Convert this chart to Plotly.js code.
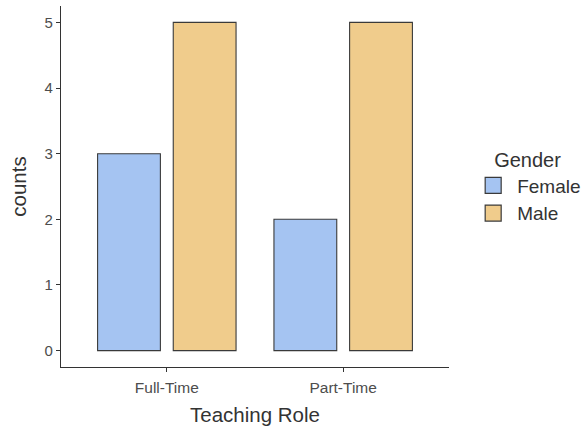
<!DOCTYPE html>
<html><head><meta charset="utf-8">
<script src="https://cdn.plot.ly/plotly-3.0.1.min.js"></script>
<style>body{margin:0;background:#fff}#c{width:585px;height:429px}</style>
</head><body><div id="c"></div>
<script>
const categories = ["Full-Time", "Part-Time"];
const femaleCounts = [3, 2];
const maleCounts = [5, 5];
const seriesNames = ["Female", "Male"];
const seriesColors = ["#a5c4f2", "#f0cc8c"];
const yTicks = [0, 1, 2, 3, 4, 5];

const fnt = "Liberation Sans, Arial, sans-serif";
const outline = {color:"#3a3a3a", width:1.1};
const traces = [
  {type:"bar", name:seriesNames[0], x:categories, y:femaleCounts, showlegend:false,
   marker:{color:seriesColors[0], line:outline}},
  {type:"bar", name:seriesNames[1], x:categories, y:maleCounts, showlegend:false,
   marker:{color:seriesColors[1], line:outline}},
  // legend keys only (no data points)
  {type:"scatter", mode:"markers", name:seriesNames[0], x:[null], y:[null],
   marker:{symbol:"square", size:16, color:seriesColors[0], line:{color:"#3a3a3a", width:1.2}}},
  {type:"scatter", mode:"markers", name:seriesNames[1], x:[null], y:[null],
   marker:{symbol:"square", size:16, color:seriesColors[1], line:{color:"#3a3a3a", width:1.2}}}
];
const layout = {
  width:585, height:429,
  margin:{l:61, r:136, t:6, b:62, autoexpand:false},
  paper_bgcolor:"#fff", plot_bgcolor:"#fff",
  barmode:"group", bargap:0.142, bargroupgap:0.17,
  font:{family:fnt, color:"#4d4d4d"},
  xaxis:{type:"category", range:[-0.6,1.6], showgrid:false, zeroline:false,
    showline:true, linecolor:"#333", linewidth:1.2,
    ticks:"outside", ticklen:4, tickcolor:"#333", tickwidth:1.2,
    ticklabelstandoff:2,
    tickfont:{size:15.5, color:"#4d4d4d"},
    title:{text:"Teaching Role", font:{size:20.5, color:"#333"}, standoff:12}},
  yaxis:{range:[-0.25,5.25], tickvals:yTicks, showgrid:false, zeroline:false,
    showline:true, linecolor:"#333", linewidth:1.2,
    ticks:"outside", ticklen:4, tickcolor:"#333", tickwidth:1.2,
    tickfont:{size:15, color:"#4d4d4d"},
    title:{text:"counts", font:{size:20.5, color:"#333"}, standoff:12}},
  legend:{x:1.052, y:0.5, xanchor:"left", yanchor:"middle",
    title:{text:"Gender", side:"top center", font:{size:20, color:"#333"}},
    font:{size:19, color:"#333"}, tracegroupgap:0, itemwidth:38, itemsizing:"trace"}
};
Plotly.newPlot("c", traces, layout, {displayModeBar:false});
</script></body></html>
